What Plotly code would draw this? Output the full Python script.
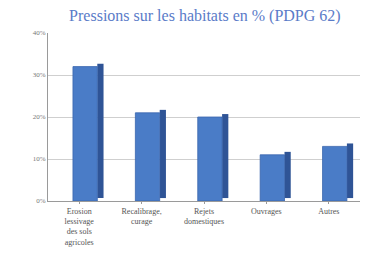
import plotly.graph_objects as go

categories = ["Erosion<br>lessivage<br>des sols<br>agricoles", "Recalibrage,<br>curage", "Rejets<br>domestiques", "Ouvrages", "Autres"]
values = [32, 21, 20, 11, 13]
y_ticks = [0, 10, 20, 30, 40]
y_tick_labels = ["0%", "10%", "20%", "30%", "40%"]

fig = go.Figure()
# darker side face (pseudo-3D depth)
fig.add_trace(go.Bar(
    x=categories, y=values, base=0.7, width=0.1, offset=0.29,
    marker=dict(color="#2f5496", line=dict(width=0)),
    hoverinfo="skip", showlegend=False,
))
# front face
fig.add_trace(go.Bar(
    x=categories, y=values, width=0.39, offset=-0.1,
    marker=dict(color="#4a7cc7", line=dict(color="#3a66ad", width=0.8)),
    showlegend=False,
))

fig.update_layout(
    width=368, height=263,
    margin=dict(l=40, r=16, t=25, b=70),
    paper_bgcolor="white", plot_bgcolor="white",
    barmode="overlay",
    title=dict(text="Pressions sur les habitats en % (PDPG 62)", x=0.535, xanchor="center",
               y=0.972, yanchor="middle",
               font=dict(family="Liberation Serif", size=16, color="#5a7bc8")),
    font=dict(family="Liberation Serif", size=8, color="#555555"),
)
fig.update_yaxes(range=[0, 40], tickvals=y_ticks, ticktext=y_tick_labels,
                 showgrid=True, gridcolor="#cfcfcf", gridwidth=1,
                 showline=True, linecolor="#9a9a9a", ticks="", ticklen=3,
                 zeroline=False, tickfont=dict(size=7, color="#777777"))
fig.update_xaxes(showline=True, linecolor="#9a9a9a", ticks="outside", ticklen=2,
                 tickcolor="#9a9a9a", tickangle=0,
                 tickfont=dict(size=8, color="#555555"))

fig.write_html("out.html")
